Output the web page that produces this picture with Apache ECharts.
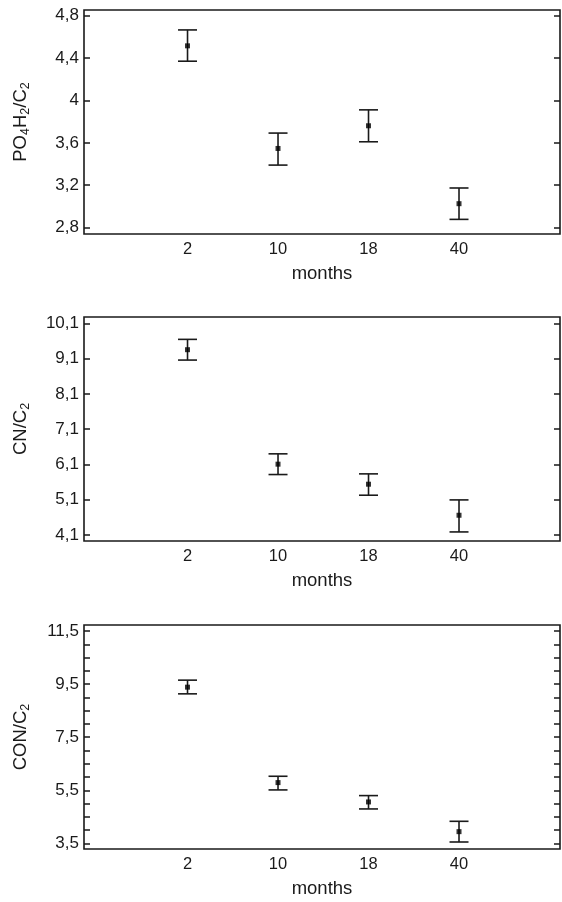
<!DOCTYPE html>
<html>
<head>
<meta charset="utf-8">
<title>ratios vs months</title>
<script src="https://cdn.jsdelivr.net/npm/echarts@6/dist/echarts.min.js"></script>
<style>
  html, body { margin: 0; padding: 0; background: #fff; }
  #chart { width: 562px; height: 902px; }
</style>
</head>
<body>
<div id="chart"></div>
<script>
// categories (placed at 1..4 on a value axis)
const months = ['2', '10', '18', '40'];
const monthPos = [1, 2, 3, 4];

// PO4H2/C2
const po4Mean = [4.515, 3.547, 3.761, 3.026];
const po4Low = [4.370, 3.390, 3.610, 2.878];
const po4High = [4.665, 3.692, 3.911, 3.174];

// CN/C2
const cnMean = [9.353, 6.108, 5.540, 4.660];
const cnLow = [9.059, 5.814, 5.228, 4.187];
const cnHigh = [9.646, 6.401, 5.833, 5.095];

// CON/C2
const conMean = [9.387, 5.789, 5.060, 3.940];
const conLow = [9.135, 5.513, 4.796, 3.550];
const conHigh = [9.651, 6.028, 5.299, 4.330];

// tick values
const po4Ticks = [2.8, 3.2, 3.6, 4.0, 4.4, 4.8];
const cnTicks = [4.1, 5.1, 6.1, 7.1, 8.1, 9.1, 10.1];
const conTicks = [3.5, 5.5, 7.5, 9.5, 11.5];
const conMinorTicks = [3.5, 4, 4.5, 5, 5.5, 6, 6.5, 7, 7.5, 8, 8.5, 9, 9.5, 10, 10.5, 11, 11.5];

const FONT = "'Liberation Sans', Arial, sans-serif";
const INK = '#1a1a1a';

const panels = [
  { name: 'PO{s|4}H{s|2}/C{s|2}', mean: po4Mean, low: po4Low, high: po4High,
    min: 2.74, max: 4.853, labels: po4Ticks, ticks: po4Ticks, top: 10 },
  { name: 'CN/C{s|2}', mean: cnMean, low: cnLow, high: cnHigh,
    min: 3.93, max: 10.28, labels: cnTicks, ticks: cnTicks, top: 317 },
  { name: 'CON/C{s|2}', mean: conMean, low: conLow, high: conHigh,
    min: 3.286, max: 11.73, labels: conTicks, ticks: conMinorTicks, top: 625 }
];

const fmt = v => String(+v.toFixed(2)).replace('.', ',');

function errorBar(params, api) {
  const x = api.value(0);
  const hi = api.coord([x, api.value(2)]);
  const lo = api.coord([x, api.value(1)]);
  const half = 9.5;
  const style = { stroke: INK, lineWidth: 1.6 };
  return {
    type: 'group',
    children: [
      { type: 'line', shape: { x1: hi[0], y1: hi[1], x2: lo[0], y2: lo[1] }, style },
      { type: 'line', shape: { x1: hi[0] - half, y1: hi[1], x2: hi[0] + half, y2: hi[1] }, style },
      { type: 'line', shape: { x1: lo[0] - half, y1: lo[1], x2: lo[0] + half, y2: lo[1] }, style }
    ]
  };
}

const grid = [], xAxis = [], yAxis = [], series = [];

panels.forEach((p, i) => {
  grid.push({
    left: 84, width: 476, top: p.top, height: 224,
    show: true, borderColor: INK, borderWidth: 1.6, backgroundColor: 'transparent'
  });
  xAxis.push({
    type: 'value', gridIndex: i, min: -0.144, max: 5.116,
    axisLine: { show: false, onZero: false },
    axisTick: { show: false },
    splitLine: { show: false },
    axisLabel: {
      customValues: monthPos,
      formatter: v => months[Math.round(v) - 1],
      fontFamily: FONT, fontSize: 16.5, color: INK, margin: 7
    },
    name: 'months', nameLocation: 'middle', nameGap: 30,
    nameTextStyle: { fontFamily: FONT, fontSize: 18.5, color: INK }
  });
  yAxis.push({
    type: 'value', gridIndex: i, min: p.min, max: p.max,
    axisLine: { show: false, onZero: false },
    splitLine: { show: false },
    axisTick: { inside: true, length: 6, customValues: p.ticks, lineStyle: { color: INK, width: 1.5 } },
    axisLabel: {
      customValues: p.labels, formatter: fmt,
      fontFamily: FONT, fontSize: 17, color: INK, margin: 5
    },
    name: p.name, nameLocation: 'middle', nameGap: 52,
    nameTextStyle: {
      fontFamily: FONT, fontSize: 18.5, color: INK,
      rich: { s: { fontFamily: FONT, fontSize: 12.5, color: INK, padding: [9, 0, 0, 0] } }
    }
  });
  yAxis.push({
    type: 'value', gridIndex: i, position: 'right', min: p.min, max: p.max,
    axisLine: { show: false, onZero: false },
    splitLine: { show: false },
    axisTick: { inside: true, length: 6, customValues: p.ticks, lineStyle: { color: INK, width: 1.5 } },
    axisLabel: { show: false }
  });

  series.push({
    type: 'custom',
    xAxisIndex: i, yAxisIndex: i * 2,
    renderItem: errorBar,
    data: monthPos.map((x, k) => [x, p.low[k], p.high[k]]),
    silent: true, z: 2
  });
  series.push({
    type: 'scatter',
    xAxisIndex: i, yAxisIndex: i * 2,
    symbol: 'rect', symbolSize: 5,
    itemStyle: { color: '#000' },
    data: monthPos.map((x, k) => [x, p.mean[k]]),
    silent: true, z: 3
  });
});

const chart = echarts.init(document.getElementById('chart'));
chart.setOption({
  animation: false,
  backgroundColor: '#fff',
  grid, xAxis, yAxis, series
});
</script>
</body>
</html>
